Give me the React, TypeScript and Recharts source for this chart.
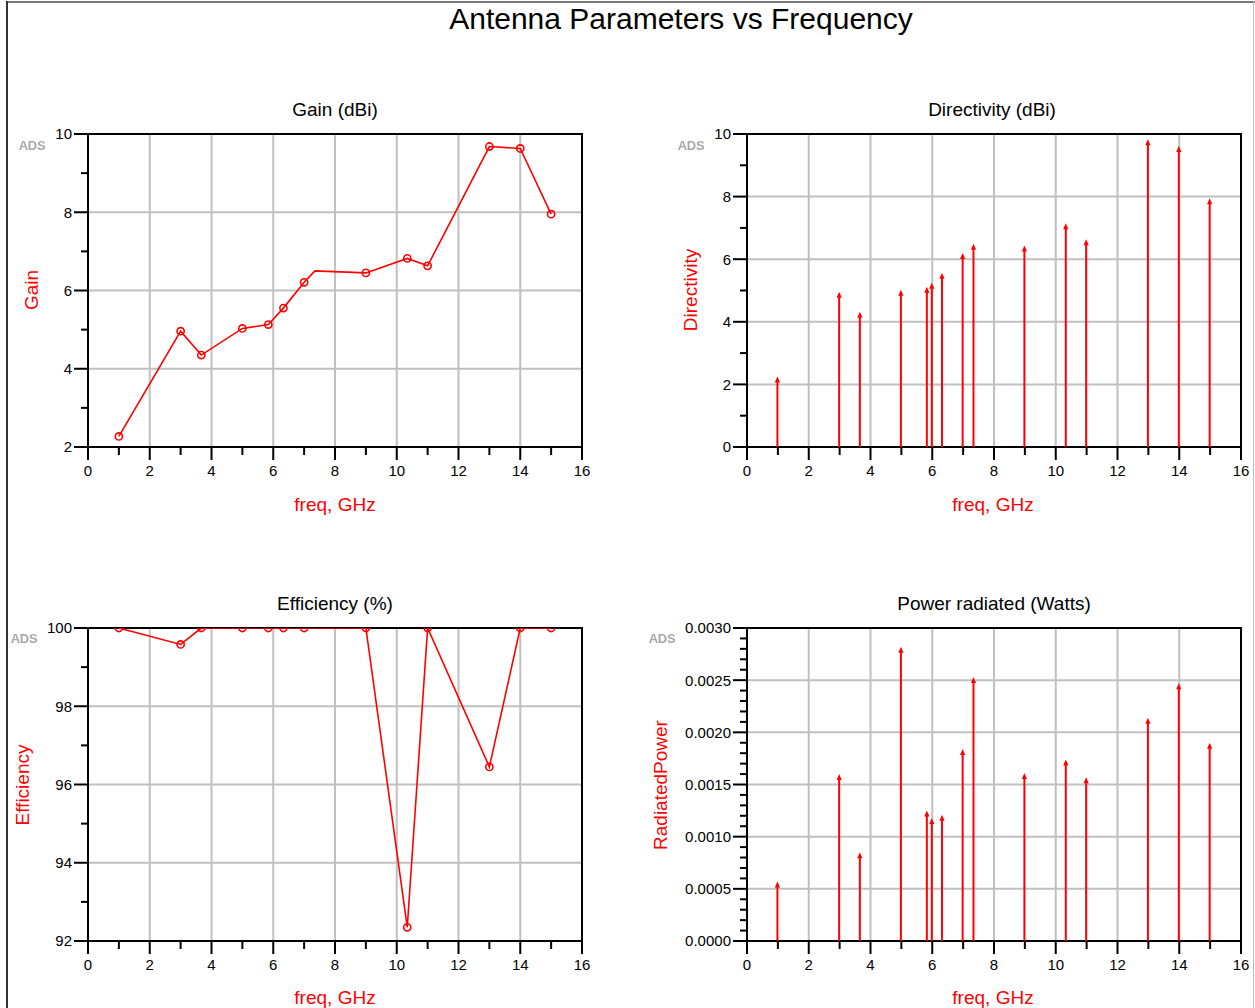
import React from 'react';
import { ComposedChart, Line, Bar, XAxis, YAxis, ReferenceLine, ReferenceArea } from 'recharts';

// ---------- data ----------
const lineFreq = [1, 3, 3.67, 5, 5.84, 6.33, 7, 7.35, 9, 10.34, 11, 13, 14, 15];
const lineMarker = [1, 1, 1, 1, 1, 1, 1, 0, 1, 1, 1, 1, 1, 1];
const gainVals = [2.27, 4.96, 4.35, 5.03, 5.13, 5.55, 6.21, 6.5, 6.45, 6.82, 6.63, 9.68, 9.63, 7.95];
const effVals = [100, 99.58, 100, 100, 100, 100, 100, 100, 100, 92.35, 100, 96.45, 100, 100];

const stemFreq = [1, 3, 3.67, 5, 5.84, 6, 6.33, 7, 7.35, 9, 10.34, 11, 13, 14, 15];
const dirVals = [2.25, 4.96, 4.32, 5.02, 5.12, 5.25, 5.57, 6.2, 6.49, 6.44, 7.15, 6.64, 9.83, 9.62, 7.95];
const powVals = [0.00057, 0.0016, 0.00085, 0.00282, 0.00125, 0.00118, 0.00121, 0.00184, 0.00253, 0.00161, 0.00174, 0.00157, 0.00214, 0.00247, 0.0019];

const xTicks = [0, 1, 2, 3, 4, 5, 6, 7, 8, 9, 10, 11, 12, 13, 14, 15, 16];
const xGrid = [2, 4, 6, 8, 10, 12, 14];
const gainTicks = [2, 3, 4, 5, 6, 7, 8, 9, 10];
const gainGrid = [4, 6, 8];
const dirTicks = [0, 1, 2, 3, 4, 5, 6, 7, 8, 9, 10];
const dirGrid = [2, 4, 6, 8];
const effTicks = [92, 93, 94, 95, 96, 97, 98, 99, 100];
const effGrid = [94, 96, 98];
const powTicks = Array.from({ length: 31 }, (_, i) => i / 10000);
const powGrid = [0.0005, 0.001, 0.0015, 0.002, 0.0025];

const gainData = lineFreq.map((f, i) => ({ f, v: gainVals[i], m: lineMarker[i] }));
const effData = lineFreq.map((f, i) => ({ f, v: effVals[i], m: lineMarker[i] }));
const dirData = stemFreq.map((f, i) => ({ f, v: dirVals[i] }));
const powData = stemFreq.map((f, i) => ({ f, v: powVals[i] }));

// ---------- style ----------
const FONT = '"Liberation Sans", Arial, Helvetica, sans-serif';
const RED = '#ff0000';
const GRID = '#c0c0c0';
const W = 602;
const H = 363;

const XTick = (props: any) => {
  const { x, y, payload } = props;
  const v = payload.value;
  const major = Math.round(v) % 2 === 0;
  return (
    <g>
      <line x1={x} x2={x} y1={y} y2={y + (major ? 13 : 8)} stroke="#000" strokeWidth={2} />
      {major && (
        <text x={x} y={y + 29} textAnchor="middle" fontSize={15} fontFamily={FONT} fill="#000">
          {v}
        </text>
      )}
    </g>
  );
};

const makeYTick = (isMajor: (v: number) => boolean, fmt: (v: number) => string) => (props: any) => {
  const { x, y, payload } = props;
  const v = payload.value;
  const major = isMajor(v);
  return (
    <g>
      <line x1={x - (major ? 14 : 7)} x2={x} y1={y} y2={y} stroke="#000" strokeWidth={2} />
      {major && (
        <text x={x - 16} y={y} dy="0.36em" textAnchor="end" fontSize={15} fontFamily={FONT} fill="#000">
          {fmt(v)}
        </text>
      )}
    </g>
  );
};

const evenMajor = (v: number) => Math.round(v) % 2 === 0;
const powMajor = (v: number) => Math.round(v * 10000) % 5 === 0;
const intFmt = (v: number) => String(v);
const powFmt = (v: number) => v.toFixed(4);

const Stem = (props: any) => {
  const { x, y, width, height } = props;
  if (x == null || y == null || height == null) return <g />;
  const cx = x + width / 2;
  const base = y + height;
  return (
    <g>
      <line x1={cx} x2={cx} y1={base} y2={y + 4} stroke={RED} strokeWidth={2} />
      <polygon points={`${cx},${y} ${cx - 2.6},${y + 6} ${cx + 2.6},${y + 6}`} fill={RED} />
    </g>
  );
};

const MarkerDot = (props: any) => {
  const { cx, cy, payload, index } = props;
  if (!payload || !payload.m || cx == null) return <g key={`d${index}`} />;
  return <circle key={`d${index}`} cx={cx} cy={cy} r={3.6} fill="none" stroke={RED} strokeWidth={1.6} />;
};

type PanelProps = {
  left: number;
  top: number;
  data: any[];
  yDomain: [number, number];
  yTicks: number[];
  yGrid: number[];
  isMajor: (v: number) => boolean;
  fmt: (v: number) => string;
  kind: 'line' | 'stem';
};

const Panel = ({ left, top, data, yDomain, yTicks, yGrid, isMajor, fmt, kind }: PanelProps) => {
  const YT = makeYTick(isMajor, fmt);
  const zProps: any = { zIndex: -50 };
  const topZ: any = { zIndex: 900 };
  return (
    <div style={{ position: 'absolute', left, top, width: W, height: H }}>
      <ComposedChart width={W} height={H} data={data} margin={{ top: 10, right: 20, left: 0, bottom: 0 }}>
        <XAxis
          dataKey="f"
          type="number"
          domain={[0, 16]}
          ticks={xTicks}
          interval={0}
          tick={<XTick />}
          tickLine={false}
          tickSize={0}
          tickMargin={0}
          axisLine={{ stroke: '#000', strokeWidth: 2 }}
          height={40}
          allowDataOverflow
        />
        <YAxis
          type="number"
          domain={yDomain}
          ticks={yTicks}
          interval={0}
          tick={<YT />}
          tickLine={false}
          tickSize={0}
          tickMargin={0}
          axisLine={{ stroke: '#000', strokeWidth: 2 }}
          width={88}
          allowDataOverflow
        />
        {xGrid.map((g) => (
          <ReferenceLine key={`vx${g}`} x={g} stroke={GRID} strokeWidth={2} ifOverflow="visible" {...zProps} />
        ))}
        {yGrid.map((g) => (
          <ReferenceLine key={`hy${g}`} y={g} stroke={GRID} strokeWidth={2} ifOverflow="visible" {...zProps} />
        ))}
        <ReferenceArea x1={0} x2={16} y1={yDomain[0]} y2={yDomain[1]} fill="none" fillOpacity={0} stroke="#000" strokeWidth={2} ifOverflow="visible" />
        {kind === 'line' ? (
          <Line
            type="linear"
            dataKey="v"
            stroke={RED}
            strokeWidth={1.6}
            dot={(p: any) => <MarkerDot {...p} key={`dot${p.index}`} />}
            activeDot={false}
            isAnimationActive={false}
            {...topZ}
          />
        ) : (
          <Bar dataKey="v" barSize={4} shape={<Stem />} isAnimationActive={false} {...topZ} />
        )}
      </ComposedChart>
    </div>
  );
};

const T = ({ x, y, size, color, children, rotate, bold, extra }: any) => (
  <div
    style={{
      position: 'absolute',
      left: x,
      top: y,
      transform: `translate(-50%, -50%)${rotate ? ' rotate(-90deg)' : ''}`,
      fontFamily: FONT,
      fontSize: size,
      color: color || '#000',
      whiteSpace: 'nowrap',
      lineHeight: 1,
      fontWeight: bold ? 'bold' : 'normal',
      ...(extra || {}),
    }}
  >
    {children}
  </div>
);

const adsStyle = { filter: 'blur(0.7px)', letterSpacing: '-0.3px' };

export default function App() {
  return (
    <div style={{ position: 'absolute', left: 0, top: 0, width: 1255, height: 1008, background: '#fff', overflow: 'hidden' }}>
      {/* frame */}
      <div style={{ position: 'absolute', left: 6, top: 1, width: 1249, height: 2, background: '#777' }} />
      <div style={{ position: 'absolute', left: 6, top: 1, width: 2, height: 1007, background: '#333' }} />
      <div style={{ position: 'absolute', left: 1253, top: 1, width: 1, height: 1007, background: '#bbb' }} />

      <T x={681} y={19} size={30}>Antenna Parameters vs Frequency</T>

      <Panel left={0} top={124} data={gainData} yDomain={[2, 10]} yTicks={gainTicks} yGrid={gainGrid} isMajor={evenMajor} fmt={intFmt} kind="line" />
      <Panel left={659} top={124} data={dirData} yDomain={[0, 10]} yTicks={dirTicks} yGrid={dirGrid} isMajor={evenMajor} fmt={intFmt} kind="stem" />
      <Panel left={0} top={618} data={effData} yDomain={[92, 100]} yTicks={effTicks} yGrid={effGrid} isMajor={evenMajor} fmt={intFmt} kind="line" />
      <Panel left={659} top={618} data={powData} yDomain={[0, 0.003]} yTicks={powTicks} yGrid={powGrid} isMajor={powMajor} fmt={powFmt} kind="stem" />

      <T x={335} y={109} size={19}>Gain (dBi)</T>
      <T x={992} y={109} size={19}>Directivity (dBi)</T>
      <T x={335} y={603} size={19}>Efficiency (%)</T>
      <T x={994} y={603} size={19}>Power radiated (Watts)</T>

      <T x={335} y={504} size={19} color={RED}>freq, GHz</T>
      <T x={993} y={504} size={19} color={RED}>freq, GHz</T>
      <T x={335} y={997} size={19} color={RED}>freq, GHz</T>
      <T x={993} y={997} size={19} color={RED}>freq, GHz</T>

      <T x={31} y={290} size={19} color={RED} rotate>Gain</T>
      <T x={690} y={290} size={19} color={RED} rotate>Directivity</T>
      <T x={22} y={785} size={19} color={RED} rotate>Efficiency</T>
      <T x={660} y={785} size={19} color={RED} rotate>RadiatedPower</T>

      <T x={32} y={145} size={13} color="#a8a8a8" bold extra={adsStyle}>ADS</T>
      <T x={691} y={145} size={13} color="#a8a8a8" bold extra={adsStyle}>ADS</T>
      <T x={24} y={638} size={13} color="#a8a8a8" bold extra={adsStyle}>ADS</T>
      <T x={662} y={638} size={13} color="#a8a8a8" bold extra={adsStyle}>ADS</T>
    </div>
  );
}
